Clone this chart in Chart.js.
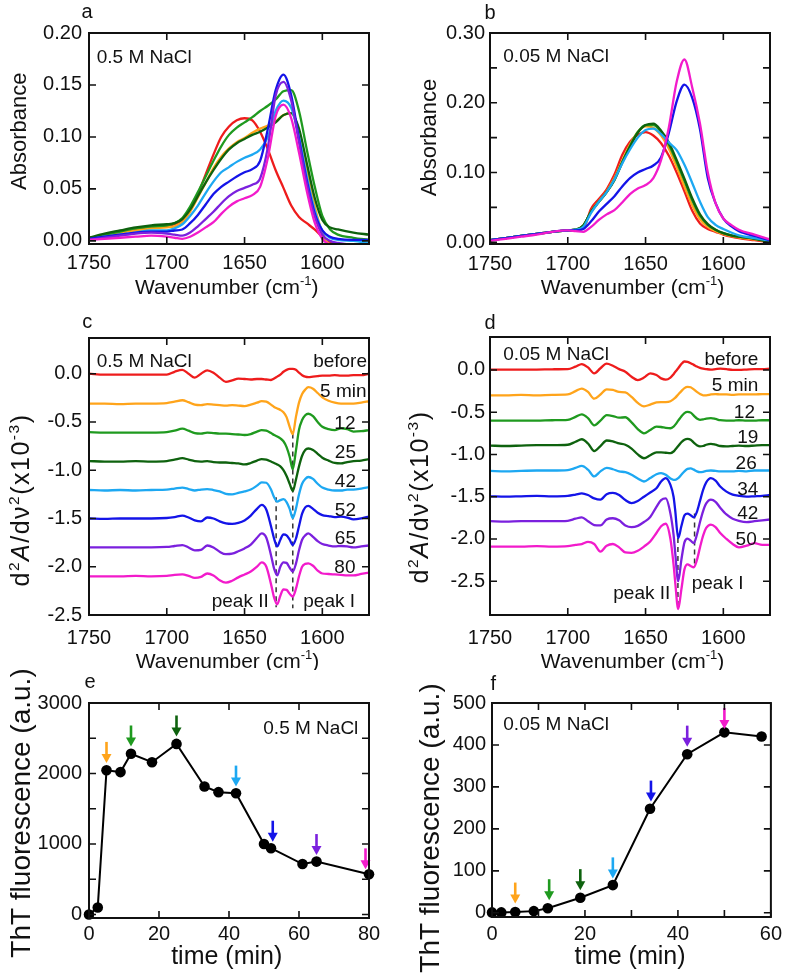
<!DOCTYPE html>
<html><head><meta charset="utf-8">
<script src="https://cdn.jsdelivr.net/npm/chart.js@4/dist/chart.umd.min.js"></script>
<style>
html,body{margin:0;padding:0;background:#fff;}
body{width:787px;height:976px;position:relative;overflow:hidden;}
canvas{position:absolute;}
</style></head><body>
<canvas id="cA" width="393" height="305" style="left:0px;top:0px"></canvas>
<canvas id="cB" width="394" height="305" style="left:393px;top:0px"></canvas>
<canvas id="cC" width="393" height="365" style="left:0px;top:305px"></canvas>
<canvas id="cD" width="394" height="365" style="left:393px;top:305px"></canvas>
<canvas id="cE" width="393" height="306" style="left:0px;top:670px"></canvas>
<canvas id="cF" width="394" height="306" style="left:393px;top:670px"></canvas>
<script>
// ---------------- DATA ----------------
// Panels a, b: absorbance spectra (wavenumber grid, cm-1)
const gridAB = [1750,1740,1730,1720,1710,1700,1695,1690,1685,1680,1675,1670,1665,1660,1655,1650,1645,1640,1635,1630,1625,1620,1615,1610,1605,1600,1595,1590,1580,1570];
// a: 0.5 M NaCl  (before, 5, 12, 25, 42, 52, 65, 80 min)
const absA_before = [0.003,0.005,0.008,0.011,0.013,0.014,0.016,0.020,0.030,0.045,0.064,0.083,0.100,0.110,0.116,0.118,0.116,0.105,0.088,0.068,0.051,0.034,0.023,0.017,0.011,0.004,-0.001,-0.003,-0.005,-0.006];
const absA_5  = [0.002,0.005,0.008,0.010,0.012,0.013,0.014,0.018,0.028,0.042,0.056,0.070,0.081,0.089,0.095,0.099,0.104,0.108,0.111,0.115,0.121,0.123,0.105,0.070,0.034,0.008,-0.004,-0.006,-0.008,-0.008];
const absA_12 = [0.002,0.006,0.009,0.012,0.014,0.015,0.017,0.022,0.033,0.047,0.062,0.077,0.091,0.102,0.109,0.114,0.119,0.125,0.130,0.136,0.144,0.145,0.125,0.088,0.053,0.024,0.011,0.006,0.003,0.001];
const absA_25 = [0.003,0.007,0.010,0.013,0.015,0.016,0.017,0.021,0.030,0.043,0.056,0.068,0.079,0.088,0.094,0.098,0.102,0.105,0.109,0.114,0.121,0.123,0.108,0.075,0.042,0.020,0.013,0.011,0.008,0.006];
const absA_42 = [0.001,0.004,0.006,0.008,0.010,0.010,0.012,0.016,0.024,0.034,0.046,0.057,0.066,0.071,0.076,0.080,0.083,0.088,0.100,0.125,0.135,0.128,0.100,0.062,0.030,0.010,0.003,0.001,0.000,-0.002];
const absA_52 = [0.002,0.004,0.006,0.008,0.009,0.009,0.010,0.011,0.017,0.025,0.035,0.045,0.052,0.057,0.062,0.066,0.069,0.077,0.108,0.145,0.160,0.140,0.098,0.058,0.027,0.010,0.004,0.002,0.001,0.001];
const absA_65 = [0.001,0.003,0.005,0.007,0.008,0.007,0.006,0.005,0.008,0.014,0.021,0.028,0.036,0.043,0.048,0.051,0.054,0.060,0.090,0.140,0.153,0.135,0.095,0.055,0.024,0.006,0.000,-0.002,-0.004,-0.005];
const absA_80 = [0.001,0.002,0.003,0.004,0.005,0.004,0.003,0.002,0.004,0.008,0.013,0.018,0.026,0.033,0.038,0.041,0.044,0.052,0.080,0.120,0.131,0.118,0.085,0.048,0.018,0.002,-0.004,-0.006,-0.008,-0.008];
// b: 0.05 M NaCl (before, 5, 12, 19, 26, 34, 50 min)
const absB_before = [0.003,0.006,0.009,0.012,0.015,0.017,0.018,0.020,0.048,0.062,0.076,0.097,0.125,0.144,0.154,0.158,0.153,0.142,0.124,0.100,0.073,0.045,0.027,0.019,0.015,0.011,0.008,0.006,0.003,0.000];
const absB_5  = [0.003,0.006,0.009,0.012,0.015,0.017,0.018,0.024,0.044,0.059,0.073,0.092,0.117,0.140,0.158,0.166,0.164,0.153,0.134,0.108,0.080,0.053,0.033,0.022,0.016,0.012,0.009,0.007,0.004,0.001];
const absB_12 = [0.003,0.006,0.009,0.012,0.015,0.017,0.018,0.024,0.044,0.058,0.072,0.090,0.115,0.138,0.158,0.168,0.168,0.158,0.140,0.115,0.088,0.060,0.038,0.025,0.018,0.013,0.010,0.008,0.005,0.001];
const absB_19 = [0.003,0.006,0.009,0.012,0.015,0.017,0.018,0.024,0.044,0.058,0.072,0.089,0.114,0.137,0.157,0.168,0.170,0.160,0.143,0.118,0.091,0.063,0.040,0.026,0.018,0.013,0.010,0.008,0.005,0.001];
const absB_26 = [0.003,0.006,0.009,0.012,0.015,0.017,0.018,0.022,0.042,0.058,0.072,0.090,0.113,0.133,0.150,0.161,0.163,0.155,0.143,0.132,0.111,0.085,0.058,0.036,0.025,0.019,0.014,0.010,0.006,0.002];
const absB_34 = [0.003,0.006,0.009,0.012,0.015,0.017,0.017,0.019,0.030,0.044,0.055,0.066,0.080,0.092,0.100,0.105,0.110,0.122,0.157,0.202,0.226,0.207,0.162,0.092,0.056,0.034,0.023,0.016,0.009,0.003];
const absB_50 = [0.002,0.005,0.008,0.011,0.015,0.017,0.016,0.015,0.022,0.032,0.040,0.046,0.057,0.069,0.077,0.082,0.092,0.118,0.165,0.230,0.262,0.222,0.170,0.100,0.056,0.034,0.025,0.018,0.011,0.004];

// Panel c: second-derivative spectra, 0.5 M NaCl (offset traces as plotted)
const gridC = [1750,1740,1730,1720,1710,1700,1695,1690,1686,1682,1678,1674,1670,1666,1662,1658,1654,1650,1646,1642,1639,1636,1633,1631,1629,1627,1625,1623,1621,1619,1617,1615,1613,1611,1609,1606,1603,1600,1596,1592,1588,1584,1580,1575,1570];
const d2C_before = [0.00,-0.01,-0.01,-0.01,-0.01,-0.01,0.02,0.04,0.00,-0.04,0.00,0.035,0.01,-0.04,-0.085,-0.07,-0.05,-0.055,-0.06,-0.055,-0.055,-0.06,-0.065,-0.05,-0.03,-0.01,0.02,0.04,0.05,0.05,0.04,0.01,-0.015,-0.03,-0.035,-0.03,-0.025,-0.02,-0.02,-0.015,-0.02,-0.02,-0.015,-0.015,0.0];
const d2C_5  = [-0.31,-0.31,-0.315,-0.31,-0.31,-0.305,-0.29,-0.275,-0.295,-0.32,-0.325,-0.315,-0.32,-0.325,-0.33,-0.325,-0.33,-0.335,-0.32,-0.30,-0.285,-0.29,-0.32,-0.345,-0.36,-0.375,-0.40,-0.45,-0.55,-0.625,-0.45,-0.30,-0.21,-0.165,-0.14,-0.155,-0.20,-0.245,-0.28,-0.30,-0.31,-0.31,-0.31,-0.30,-0.285];
const d2C_12 = [-0.605,-0.61,-0.61,-0.61,-0.61,-0.605,-0.59,-0.57,-0.59,-0.615,-0.62,-0.61,-0.615,-0.62,-0.62,-0.625,-0.63,-0.635,-0.625,-0.60,-0.585,-0.59,-0.615,-0.635,-0.65,-0.67,-0.70,-0.76,-0.86,-0.99,-0.80,-0.58,-0.48,-0.43,-0.415,-0.44,-0.50,-0.55,-0.575,-0.585,-0.565,-0.575,-0.60,-0.595,-0.585];
const d2C_25 = [-0.905,-0.91,-0.91,-0.905,-0.91,-0.905,-0.89,-0.875,-0.89,-0.905,-0.91,-0.905,-0.915,-0.92,-0.92,-0.925,-0.93,-0.94,-0.925,-0.90,-0.885,-0.89,-0.91,-0.925,-0.94,-0.96,-1.00,-1.06,-1.14,-1.215,-1.10,-0.96,-0.85,-0.79,-0.775,-0.79,-0.83,-0.87,-0.90,-0.925,-0.93,-0.915,-0.905,-0.90,-0.885];
const d2C_42 = [-1.205,-1.21,-1.205,-1.21,-1.205,-1.20,-1.19,-1.18,-1.195,-1.21,-1.20,-1.195,-1.205,-1.22,-1.245,-1.25,-1.235,-1.22,-1.20,-1.16,-1.125,-1.13,-1.20,-1.28,-1.325,-1.31,-1.30,-1.33,-1.40,-1.495,-1.40,-1.25,-1.14,-1.09,-1.07,-1.09,-1.14,-1.18,-1.20,-1.21,-1.21,-1.20,-1.20,-1.19,-1.175];
const d2C_52 = [-1.50,-1.505,-1.50,-1.50,-1.50,-1.495,-1.485,-1.47,-1.49,-1.52,-1.53,-1.49,-1.50,-1.53,-1.55,-1.555,-1.545,-1.52,-1.47,-1.40,-1.36,-1.41,-1.58,-1.71,-1.79,-1.72,-1.665,-1.675,-1.72,-1.775,-1.71,-1.58,-1.45,-1.385,-1.37,-1.40,-1.44,-1.465,-1.475,-1.485,-1.48,-1.49,-1.51,-1.50,-1.48];
const d2C_65 = [-1.80,-1.80,-1.80,-1.80,-1.80,-1.795,-1.785,-1.775,-1.80,-1.83,-1.825,-1.78,-1.80,-1.845,-1.87,-1.865,-1.84,-1.81,-1.77,-1.70,-1.655,-1.70,-1.88,-2.02,-2.09,-2.00,-1.955,-1.96,-2.01,-2.05,-1.97,-1.83,-1.72,-1.675,-1.655,-1.69,-1.735,-1.765,-1.78,-1.79,-1.785,-1.79,-1.80,-1.79,-1.78];
const d2C_80 = [-2.10,-2.10,-2.10,-2.095,-2.10,-2.095,-2.085,-2.08,-2.095,-2.115,-2.105,-2.07,-2.09,-2.14,-2.165,-2.145,-2.11,-2.08,-2.05,-2.00,-1.955,-2.00,-2.18,-2.32,-2.39,-2.30,-2.235,-2.24,-2.28,-2.31,-2.23,-2.10,-2.00,-1.97,-1.965,-1.99,-2.04,-2.07,-2.075,-2.08,-2.085,-2.09,-2.09,-2.075,-2.06];

// Panel d: second-derivative spectra, 0.05 M NaCl
const gridD = [1750,1740,1730,1720,1710,1700,1695,1691,1687,1683,1679,1675,1671,1667,1663,1659,1655,1651,1647,1643,1640,1637,1634,1632,1631,1629,1627,1625,1623,1621,1619,1617,1615,1613,1611,1608,1605,1602,1598,1594,1590,1585,1580,1575,1570];
const d2D_before = [0.005,0.005,0.005,0.005,0.008,0.01,0.04,0.07,0.03,-0.04,0.02,0.075,0.05,0.01,-0.02,-0.08,-0.12,-0.09,-0.04,-0.06,-0.10,-0.115,-0.09,-0.05,-0.025,0.02,0.07,0.10,0.095,0.08,0.06,0.04,0.025,0.015,0.01,0.005,0.01,0.015,0.01,0.0,0.0,0.005,0.01,0.01,0.015];
const d2D_5  = [-0.30,-0.30,-0.295,-0.30,-0.295,-0.29,-0.25,-0.22,-0.26,-0.34,-0.29,-0.23,-0.235,-0.26,-0.265,-0.32,-0.39,-0.43,-0.41,-0.385,-0.38,-0.38,-0.37,-0.345,-0.33,-0.29,-0.25,-0.215,-0.20,-0.205,-0.23,-0.26,-0.285,-0.30,-0.30,-0.29,-0.285,-0.29,-0.29,-0.295,-0.29,-0.29,-0.29,-0.285,-0.285];
const d2D_12 = [-0.60,-0.60,-0.60,-0.60,-0.595,-0.59,-0.555,-0.525,-0.57,-0.655,-0.60,-0.535,-0.545,-0.565,-0.56,-0.62,-0.70,-0.75,-0.71,-0.67,-0.675,-0.685,-0.69,-0.67,-0.65,-0.60,-0.55,-0.51,-0.495,-0.505,-0.54,-0.575,-0.59,-0.585,-0.575,-0.57,-0.58,-0.595,-0.60,-0.60,-0.595,-0.60,-0.60,-0.595,-0.595];
const d2D_19 = [-0.895,-0.90,-0.895,-0.89,-0.89,-0.885,-0.85,-0.82,-0.87,-0.96,-0.90,-0.835,-0.845,-0.87,-0.885,-0.93,-1.00,-1.045,-1.01,-0.975,-0.975,-0.98,-0.985,-0.965,-0.945,-0.90,-0.855,-0.825,-0.815,-0.825,-0.86,-0.89,-0.905,-0.90,-0.885,-0.875,-0.885,-0.90,-0.905,-0.90,-0.895,-0.90,-0.895,-0.89,-0.89];
const d2D_26 = [-1.195,-1.20,-1.195,-1.19,-1.19,-1.185,-1.16,-1.135,-1.18,-1.26,-1.20,-1.16,-1.175,-1.20,-1.21,-1.24,-1.285,-1.32,-1.28,-1.235,-1.22,-1.24,-1.285,-1.30,-1.30,-1.28,-1.24,-1.20,-1.17,-1.165,-1.18,-1.20,-1.21,-1.205,-1.195,-1.19,-1.195,-1.20,-1.20,-1.20,-1.195,-1.20,-1.19,-1.19,-1.19];
const d2D_34 = [-1.495,-1.50,-1.495,-1.49,-1.495,-1.49,-1.475,-1.46,-1.48,-1.52,-1.535,-1.47,-1.455,-1.48,-1.54,-1.575,-1.55,-1.50,-1.45,-1.40,-1.32,-1.28,-1.36,-1.50,-1.65,-1.99,-1.85,-1.72,-1.70,-1.72,-1.745,-1.68,-1.55,-1.42,-1.33,-1.28,-1.31,-1.38,-1.44,-1.475,-1.49,-1.50,-1.495,-1.49,-1.48];
const d2D_42 = [-1.79,-1.795,-1.79,-1.79,-1.79,-1.785,-1.76,-1.745,-1.79,-1.835,-1.84,-1.77,-1.755,-1.78,-1.84,-1.86,-1.845,-1.80,-1.74,-1.62,-1.54,-1.52,-1.70,-1.95,-2.15,-2.50,-2.25,-2.04,-1.995,-2.02,-2.05,-1.95,-1.80,-1.67,-1.58,-1.535,-1.56,-1.63,-1.71,-1.76,-1.785,-1.80,-1.79,-1.78,-1.77];
const d2D_50 = [-2.09,-2.09,-2.09,-2.085,-2.09,-2.085,-2.07,-2.06,-2.035,-2.06,-2.15,-2.08,-2.06,-2.10,-2.16,-2.165,-2.14,-2.09,-2.03,-1.93,-1.85,-1.82,-2.00,-2.30,-2.50,-2.83,-2.60,-2.36,-2.30,-2.32,-2.335,-2.25,-2.10,-1.96,-1.87,-1.83,-1.86,-1.93,-2.00,-2.06,-2.10,-2.08,-2.05,-2.07,-2.07];

// Dashed peak markers (wavenumber, y from, y to)
const peakLinesC = [[1629.7,-1.28,-2.42],[1619.0,-0.62,-2.43]];
const peakLinesD = [[1629.2,-1.99,-2.78],[1618.5,-1.70,-2.33]];

// Panels e, f: ThT fluorescence vs time
const timeE = [0,2.5,5,9,12,18,25,33,37,42,50,52,61,65,80];
const thtE  = [0,100,2045,2020,2280,2160,2420,1815,1735,1720,1000,940,715,750,570];
const timeF = [0,2,5,9,12,19,26,34,42,50,58];
const thtF  = [1,1,2,4,11,36,66,248,378,430,420];
// arrows marking the spectra times (time, arrow tip value)
const arrowTimeE = [5,12,25,42,52.5,65,79];
const arrowTipE  = [2150,2383,2525,1814,1032,843,640];
const arrowTimeF = [5,12.3,19,26,34.2,42,50];
const arrowTipF  = [22,30,54,82,265,396,438];

// tick values / labels
const wnTicks = [1750,1700,1650,1600];
const wnLabels = ['1750','1700','1650','1600'];
const yTicksA = [0,0.05,0.10,0.15,0.20];
const yLabelsA = ['0.00','0.05','0.10','0.15','0.20'];
const yTicksB = [0,0.05,0.10,0.15,0.20,0.25,0.30];
const yLabelsB = ['0.00','','0.10','','0.20','','0.30'];
const yTicksCD = [0,-0.5,-1,-1.5,-2,-2.5];
const yLabelsCD = ['0.0','-0.5','-1.0','-1.5','-2.0','-2.5'];
const xTicksE = [0,20,40,60,80];
const xLabelsE = ['0','20','40','60','80'];
const yTicksE = [0,500,1000,1500,2000,2500,3000];
const yLabelsE = ['0','','1000','','2000','','3000'];
const xTicksF = [0,10,20,30,40,50,60];
const xLabelsF = ['0','','20','','40','','60'];
const yTicksF = [0,100,200,300,400,500];
const yLabelsF = ['0','100','200','300','400','500'];

// ---------------- STYLE ----------------
const C = {red:'#EE1C1C', orange:'#FFA41B', green:'#1F9A1F', dkgreen:'#0E620E', ltblue:'#1DA8F2', blue:'#1414E8', purple:'#7B20DE', magenta:'#F21BCB'};
const FONT = "'Liberation Sans', Arial, Helvetica, sans-serif";
Chart.defaults.font.family = FONT;
Chart.defaults.font.size = 20;
Chart.defaults.color = '#111';

function richDraw(ctx, it, ox, oy) {
  const size = it.size;
  ctx.save();
  ctx.translate(it.x - ox, it.y - oy);
  if (it.rot) ctx.rotate(it.rot * Math.PI / 180);
  ctx.fillStyle = '#111';
  ctx.textBaseline = 'alphabetic';
  if (it.spacing && 'letterSpacing' in ctx) ctx.letterSpacing = it.spacing + 'px';
  const segs = it.segs || [[it.text, '']];
  const parts = segs.map(([t, s]) => {
    const sup = s.indexOf('sup') >= 0, ital = s.indexOf('it') >= 0;
    const fs = sup ? size * 0.62 : size;
    const f = (ital ? 'italic ' : '') + fs + 'px ' + FONT;
    ctx.font = f;
    return {t, f, w: ctx.measureText(t).width, dy: sup ? -size * 0.42 : 0};
  });
  const total = parts.reduce((a, p) => a + p.w, 0);
  let x = it.align === 'center' ? -total / 2 : it.align === 'right' ? -total : 0;
  const base = size * 0.36;
  for (const p of parts) { ctx.font = p.f; ctx.fillText(p.t, x, base + p.dy); x += p.w; }
  ctx.restore();
}

function makeDecor(cfg) {
  return {
    id: 'decor',
    afterDatasetsDraw(chart) {
      const ctx = chart.ctx, a = chart.chartArea;
      const xs = chart.scales.x, ys = chart.scales.y;
      ctx.save();
      if (cfg.arrows) {
        const ar = cfg.arrows;
        for (let i = 0; i < ar.t.length; i++) {
          const x = xs.getPixelForValue(ar.t[i]), y = ys.getPixelForValue(ar.tip[i]);
          ctx.strokeStyle = ctx.fillStyle = ar.c[i];
          ctx.lineWidth = 2.6;
          ctx.beginPath(); ctx.moveTo(x, y - 21); ctx.lineTo(x, y - 8); ctx.stroke();
          ctx.beginPath(); ctx.moveTo(x - 5, y - 9); ctx.lineTo(x + 5, y - 9); ctx.lineTo(x, y); ctx.closePath(); ctx.fill();
        }
      }
      ctx.strokeStyle = '#111'; ctx.lineWidth = 1.6;
      ctx.beginPath();
      const L = 7;
      for (const t of xs.ticks) { const p = xs.getPixelForValue(t.value); ctx.moveTo(p, a.bottom); ctx.lineTo(p, a.bottom - L); ctx.moveTo(p, a.top); ctx.lineTo(p, a.top + L); }
      for (const t of ys.ticks) { const p = ys.getPixelForValue(t.value); ctx.moveTo(a.left, p); ctx.lineTo(a.left + L, p); ctx.moveTo(a.right, p); ctx.lineTo(a.right - L, p); }
      ctx.stroke();
      ctx.lineWidth = 2;
      ctx.strokeRect(a.left, a.top, a.right - a.left, a.bottom - a.top);
      ctx.restore();
      for (const it of cfg.texts) richDraw(ctx, it, cfg.ox, cfg.oy);
    }
  };
}

function opts(p) {
  return {
    responsive: false, animation: false, events: [],
    layout: {padding: {left: 0, top: p.padTop, right: p.padRight, bottom: 0}},
    plugins: {legend: {display: false}, tooltip: {enabled: false}},
    scales: {
      x: {type: 'linear', min: p.xmin, max: p.xmax, reverse: !!p.rev,
          grid: {display: false, drawTicks: false}, border: {display: false},
          afterBuildTicks: s => { s.ticks = p.xt.map(v => ({value: v})); },
          afterFit: s => { s.height = p.xH; },
          ticks: {autoSkip: false, maxRotation: 0, minRotation: 0, padding: p.xPad, color: '#111', font: {size: 20},
                  callback: (v, i) => p.xl[i]}},
      y: {type: 'linear', min: p.ymin, max: p.ymax,
          grid: {display: false, drawTicks: false}, border: {display: false},
          afterBuildTicks: s => { s.ticks = p.yt.map(v => ({value: v})); },
          afterFit: s => { s.width = p.yW; },
          ticks: {autoSkip: false, padding: p.yPad, color: '#111', font: {size: 20},
                  callback: (v, i) => p.yl[i]}}
    }
  };
}

function spectra(grid, series, colors) {
  return series.map((vals, i) => ({
    data: grid.map((w, j) => ({x: w, y: vals[j]})),
    borderColor: colors[i], borderWidth: 2.3, pointRadius: 0,
    cubicInterpolationMode: 'monotone', fill: false
  })).reverse();
}
function dashed(lines) {
  return lines.map(l => ({
    data: [{x: l[0], y: l[1]}, {x: l[0], y: l[2]}],
    borderColor: '#333', borderWidth: 1.5, borderDash: [5, 4], pointRadius: 0, fill: false
  }));
}
function tht(times, vals) {
  return [{data: times.map((t, i) => ({x: t, y: vals[i]})), borderColor: '#000', borderWidth: 2,
           pointRadius: 5.3, pointBackgroundColor: '#000', pointBorderWidth: 0, tension: 0, clip: false}];
}

const wnTitle = [['Wavenumber (cm',''],['-1','sup'],[')','']];
const d2Title = [['d',''],['2','sup'],['A','it'],['/d\u03bd',''],['2','sup'],['(x10',''],['-3','sup'],[')','']];
const colA = [C.red, C.orange, C.green, C.dkgreen, C.ltblue, C.blue, C.purple, C.magenta];
const colB = [C.red, C.orange, C.green, C.dkgreen, C.ltblue, C.blue, C.magenta];

// ---- a ----
new Chart(document.getElementById('cA'), {
  type: 'line',
  data: {datasets: spectra(gridAB, [absA_before, absA_5, absA_12, absA_25, absA_42, absA_52, absA_65, absA_80], colA)},
  options: opts({padTop:33, padRight:24, yW:89, xH:61, xmin:1570, xmax:1750, rev:true, ymin:-0.003, ymax:0.2,
                 xt:wnTicks, xl:wnLabels, yt:yTicksA, yl:yLabelsA, xPad:7, yPad:7}),
  plugins: [makeDecor({ox:0, oy:0, texts:[
    {x:87, y:11, text:'a', size:20, align:'center'},
    {x:96.7, y:56, text:'0.5 M NaCl', size:19, align:'left'},
    {x:18.3, y:131.3, text:'Absorbance', size:22, align:'center', rot:-90},
    {x:226.7, y:286.7, segs:wnTitle, size:21, align:'center'}
  ]})]
});
// ---- b ----
new Chart(document.getElementById('cB'), {
  type: 'line',
  data: {datasets: spectra(gridAB, [absB_before, absB_5, absB_12, absB_19, absB_26, absB_34, absB_50], colB)},
  options: opts({padTop:33, padRight:17, yW:97, xH:61, xmin:1570, xmax:1750, rev:true, ymin:-0.0025, ymax:0.30,
                 xt:wnTicks, xl:wnLabels, yt:yTicksB, yl:yLabelsB, xPad:8, yPad:5}),
  plugins: [makeDecor({ox:393, oy:0, texts:[
    {x:490, y:12, text:'b', size:20, align:'center'},
    {x:503.3, y:55, text:'0.05 M NaCl', size:19, align:'left'},
    {x:428.3, y:137.5, text:'Absorbance', size:22, align:'center', rot:-90},
    {x:632.5, y:286.7, segs:wnTitle, size:21, align:'center'}
  ]})]
});
// ---- c ----
new Chart(document.getElementById('cC'), {
  type: 'line',
  data: {datasets: spectra(gridC, [d2C_before, d2C_5, d2C_12, d2C_25, d2C_42, d2C_52, d2C_65, d2C_80], colA).concat(dashed(peakLinesC))},
  options: opts({padTop:33, padRight:24, yW:89, xH:55, xmin:1570, xmax:1750, rev:true, ymin:-2.5, ymax:0.37,
                 xt:wnTicks, xl:wnLabels, yt:yTicksCD, yl:yLabelsCD, xPad:11, yPad:7}),
  plugins: [makeDecor({ox:0, oy:305, texts:[
    {x:87.3, y:320.5, text:'c', size:20, align:'center'},
    {x:96.7, y:360, text:'0.5 M NaCl', size:19, align:'left'},
    {x:367, y:360, text:'before', size:19, align:'right'},
    {x:366.5, y:390, text:'5 min', size:19, align:'right'},
    {x:355.5, y:422, text:'12', size:19, align:'right'},
    {x:356, y:451, text:'25', size:19, align:'right'},
    {x:356, y:480, text:'42', size:19, align:'right'},
    {x:356, y:509, text:'52', size:19, align:'right'},
    {x:356, y:537, text:'65', size:19, align:'right'},
    {x:355.5, y:566, text:'80', size:19, align:'right'},
    {x:211.7, y:600, text:'peak II', size:19, align:'left'},
    {x:303.3, y:600, text:'peak I', size:19, align:'left'},
    {x:20, y:500, segs:d2Title, size:25, spacing:1.5, align:'center', rot:-90},
    {x:227.5, y:660, segs:wnTitle, size:21, align:'center'}
  ]})]
});
// ---- d ----
new Chart(document.getElementById('cD'), {
  type: 'line',
  data: {datasets: spectra(gridD, [d2D_before, d2D_5, d2D_12, d2D_19, d2D_26, d2D_34, d2D_42, d2D_50], colA).concat(dashed(peakLinesD))},
  options: opts({padTop:32, padRight:17, yW:97, xH:55, xmin:1570, xmax:1750, rev:true, ymin:-2.9, ymax:0.39,
                 xt:wnTicks, xl:wnLabels, yt:yTicksCD, yl:yLabelsCD, xPad:11, yPad:5}),
  plugins: [makeDecor({ox:393, oy:305, texts:[
    {x:490, y:321.7, text:'d', size:20, align:'center'},
    {x:503.3, y:353.3, text:'0.05 M NaCl', size:19, align:'left'},
    {x:758.3, y:357.7, text:'before', size:19, align:'right'},
    {x:758.3, y:384.3, text:'5 min', size:19, align:'right'},
    {x:755, y:411, text:'12', size:19, align:'right'},
    {x:758.3, y:435.7, text:'19', size:19, align:'right'},
    {x:756.7, y:461.7, text:'26', size:19, align:'right'},
    {x:758.3, y:487.7, text:'34', size:19, align:'right'},
    {x:758.3, y:512.3, text:'42', size:19, align:'right'},
    {x:756.7, y:537.7, text:'50', size:19, align:'right'},
    {x:613.3, y:591.7, text:'peak II', size:19, align:'left'},
    {x:691.7, y:581.7, text:'peak I', size:19, align:'left'},
    {x:419, y:497, segs:d2Title, size:25, spacing:1.5, align:'center', rot:-90},
    {x:632.5, y:660, segs:wnTitle, size:21, align:'center'}
  ]})]
});
// ---- e ----
new Chart(document.getElementById('cE'), {
  type: 'line',
  data: {datasets: tht(timeE, thtE)},
  options: opts({padTop:33, padRight:24, yW:89, xH:58, xmin:0, xmax:80, ymin:-50, ymax:3000,
                 xt:xTicksE, xl:xLabelsE, yt:yTicksE, yl:yLabelsE, xPad:4, yPad:7}),
  plugins: [makeDecor({ox:0, oy:670,
    arrows:{t:arrowTimeE, tip:arrowTipE, c:[C.orange, C.green, C.dkgreen, C.ltblue, C.blue, C.purple, C.magenta]},
    texts:[
    {x:90, y:681, text:'e', size:20, align:'center'},
    {x:263.3, y:727.3, text:'0.5 M NaCl', size:19, align:'left'},
    {x:19.5, y:813, text:'ThT fluorescence (a.u.)', size:28, align:'center', rot:-90},
    {x:226.7, y:955, text:'time (min)', size:25, align:'center'}
  ]})]
});
// ---- f ----
new Chart(document.getElementById('cF'), {
  type: 'line',
  data: {datasets: tht(timeF, thtF)},
  options: opts({padTop:33, padRight:15, yW:99, xH:59, xmin:0, xmax:60, ymin:-10, ymax:500,
                 xt:xTicksF, xl:xLabelsF, yt:yTicksF, yl:yLabelsF, xPad:5, yPad:6}),
  plugins: [makeDecor({ox:393, oy:670,
    arrows:{t:arrowTimeF, tip:arrowTipF, c:[C.orange, C.green, C.dkgreen, C.ltblue, C.blue, C.purple, C.magenta]},
    texts:[
    {x:493.3, y:683, text:'f', size:20, align:'center'},
    {x:503.3, y:722.7, text:'0.05 M NaCl', size:19, align:'left'},
    {x:429, y:828, text:'ThT fluorescence (a.u.)', size:28, align:'center', rot:-90},
    {x:630, y:955, text:'time (min)', size:25, align:'center'}
  ]})]
});
</script>
</body></html>
